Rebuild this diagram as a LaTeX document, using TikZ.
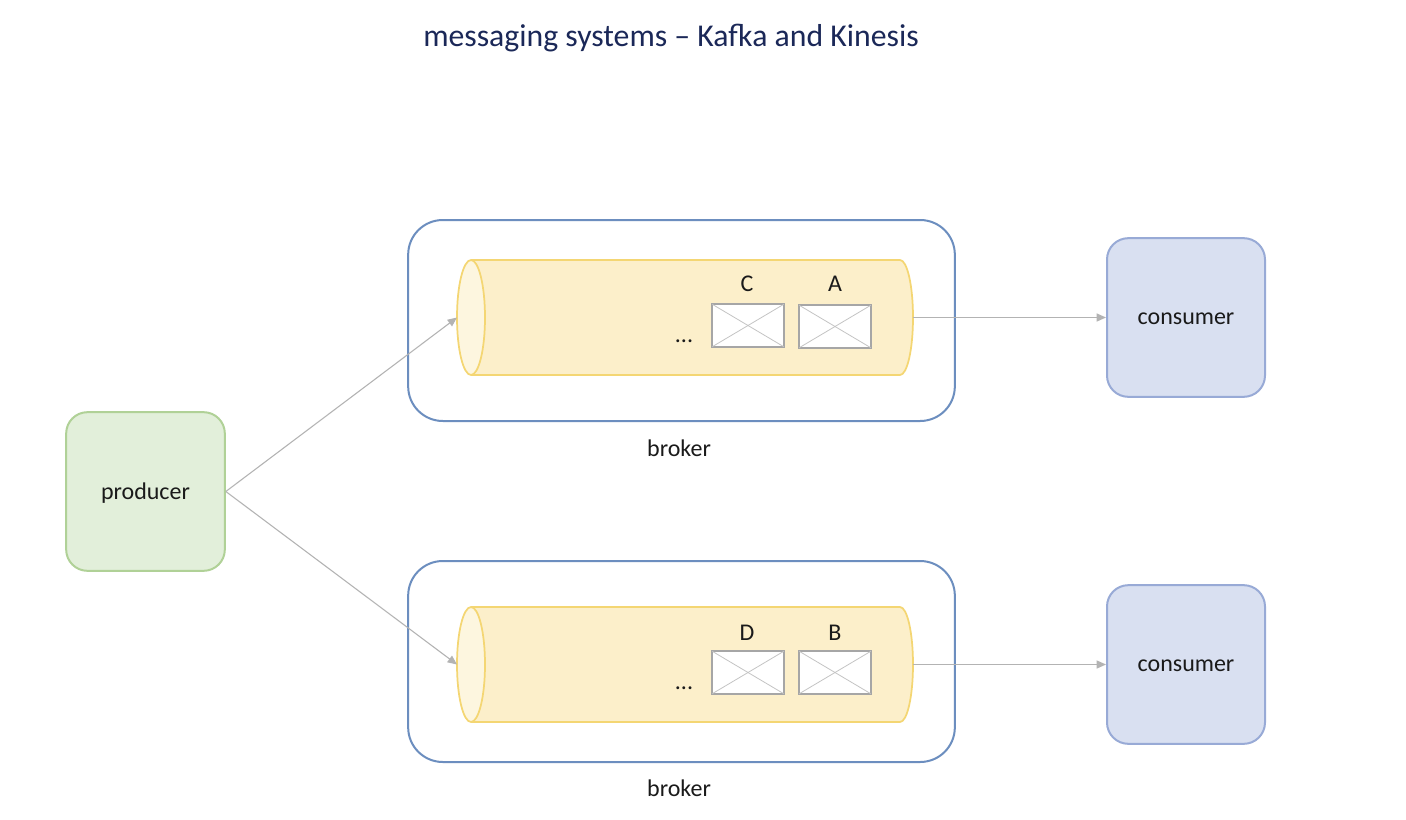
\documentclass[tikz,border=0pt]{standalone}
\usepackage{fontspec}
\setmainfont{Carlito}
\usetikzlibrary{arrows.meta}
\definecolor{titlec}{HTML}{1B2858}
\definecolor{txt}{HTML}{1A1A1A}
\definecolor{prodfill}{HTML}{E2EFDA}
\definecolor{proddraw}{HTML}{B0D197}
\definecolor{consfill}{HTML}{D9E0F1}
\definecolor{consdraw}{HTML}{98AAD6}
\definecolor{brokdraw}{HTML}{6C8EBF}
\definecolor{cylfill}{HTML}{FCEFCA}
\definecolor{cylface}{HTML}{FDF6DF}
\definecolor{cyldraw}{HTML}{F4D673}
\definecolor{msgdraw}{HTML}{A6A6A6}
\definecolor{msgx}{HTML}{C4C4C4}
\definecolor{arr}{HTML}{B3B3B3}
\tikzset{
  lbl/.style={text=txt,font=\fontsize{18}{21}\selectfont,inner sep=0pt},
  procbox/.style={draw=proddraw,fill=prodfill,line width=1.5pt,rounded corners=16pt,
    minimum width=119pt,minimum height=119pt,text=txt,font=\fontsize{18}{21}\selectfont,
    text height=12pt,text depth=0pt},
  consbox/.style={draw=consdraw,fill=consfill,line width=1.5pt,rounded corners=16pt,
    minimum width=118.5pt,minimum height=119pt,text=txt,font=\fontsize{18}{21}\selectfont,
    text height=10pt,text depth=0pt},
  brokbox/.style={draw=brokdraw,line width=1.5pt,rounded corners=26pt,fill=white,
    minimum width=410pt,minimum height=150.75pt},
  msgbox/.style={draw=msgdraw,fill=white,line width=1.5pt,minimum width=54pt,minimum height=32.25pt,inner sep=0pt},
  conn/.style={draw=arr,line width=0.8pt,-{Triangle[length=7pt,width=6pt]}},
}
\newcommand{\mycyl}[2]{% #1 = y centre (px, negative), #2 = name prefix
  \fill[cylfill] (471,#1+57.5) -- (900,#1+57.5)
     arc[start angle=90,end angle=-90,x radius=9.75pt,y radius=43.125pt]
     -- (471,#1-57.5)
     arc[start angle=270,end angle=90,x radius=10.5pt,y radius=43.125pt] -- cycle;
  \draw[cyldraw,line width=1.3pt] (471,#1+57.5) -- (900,#1+57.5)
     arc[start angle=90,end angle=-90,x radius=9.75pt,y radius=43.125pt]
     -- (471,#1-57.5);
  \draw[cyldraw,line width=1.3pt,fill=cylface] (471,#1) ellipse[x radius=10.5pt,y radius=43.125pt];
  \coordinate (#2L) at (457,#1);
  \coordinate (#2R) at (913,#1);
}
\begin{document}
\begin{tikzpicture}[x=0.75pt,y=0.75pt]
\useasboundingbox (0,0) rectangle (1406,-820);
\fill[white] (0,0) rectangle (1406,-820);

\node[text=titlec,font=\fontsize{23.8}{28}\selectfont,inner sep=0pt] (title) at (671,-38) {messaging systems – Kafka and Kinesis};

% brokers
\node[brokbox] (b1) at (681.5,-320.5) {};
\node[brokbox] (b2) at (681.5,-661.5) {};
\node[lbl] (b1l) at (679,-448) {broker};
\node[lbl] (b2l) at (679,-788) {broker};

% cylinders
\mycyl{-317.5}{c1}
\mycyl{-664.5}{c2}

% messages
\node[msgbox] (mC) at (748,-325.5) {};
\node[msgbox] (mA) at (835,-326.5) {};
\node[msgbox] (mD) at (748,-672.5) {};
\node[msgbox] (mB) at (835,-672.5) {};
\foreach \m in {mC,mA,mD,mB}{
  \draw[msgx,line width=0.6pt] ([shift={(1pt,1pt)}]\m.south west) -- ([shift={(-1pt,-1pt)}]\m.north east);
  \draw[msgx,line width=0.6pt] ([shift={(1pt,-1pt)}]\m.north west) -- ([shift={(-1pt,1pt)}]\m.south east);
}
\node[lbl] (lC) at (747,-284) {C};
\node[lbl] (lA) at (835,-284) {A};
\node[lbl] (lD) at (747,-633) {D};
\node[lbl] (lB) at (835,-633) {B};
\node[lbl] (dots1) at (684,-341) {...};
\node[lbl] (dots2) at (684,-688) {...};

% producer & consumers
\node[procbox] (prod) at (145.5,-491.5) {producer};
\node[consbox] (cons1) at (1186,-317.5) {consumer};
\node[consbox] (cons2) at (1186,-664.5) {consumer};

% connectors
\draw[conn] (prod.east) -- (c1L);
\draw[conn] (prod.east) -- (c2L);
\draw[conn] (c1R) -- (cons1.west);
\draw[conn] (c2R) -- (cons2.west);
\end{tikzpicture}
\end{document}
